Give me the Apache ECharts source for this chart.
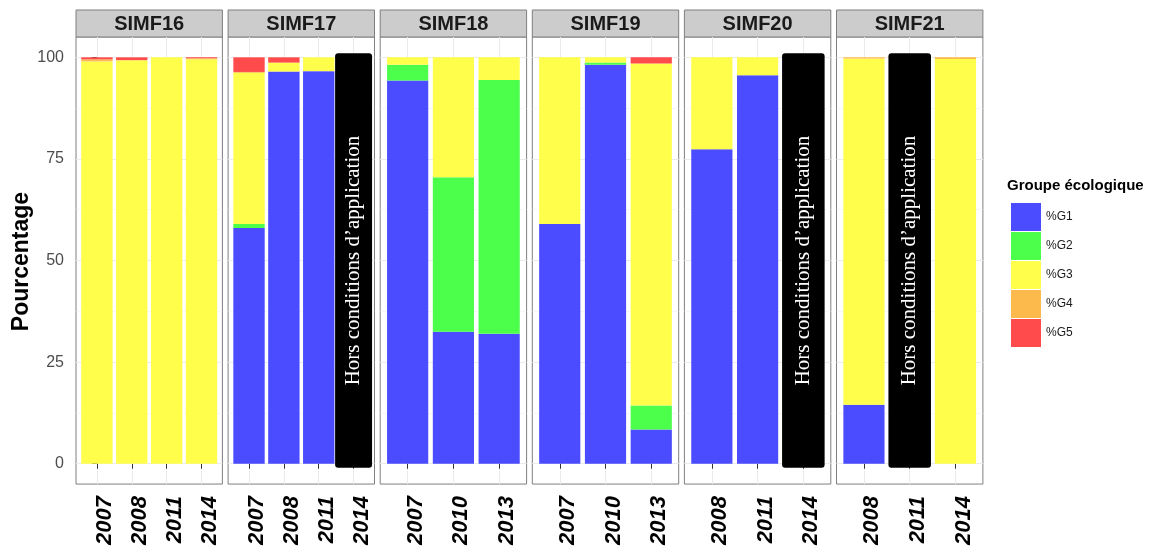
<!DOCTYPE html>
<html>
<head>
<meta charset="utf-8">
<script src="https://cdn.jsdelivr.net/npm/echarts@6/dist/echarts.min.js"></script>
<style>
  html, body { margin: 0; padding: 0; background: #fff; }
  #chart { width: 1157px; height: 548px; }
</style>
</head>
<body>
<div id="chart"></div>
<script>
// Sites (facets) and the survey years shown in each
const PANELS = ['SIMF16', 'SIMF17', 'SIMF18', 'SIMF19', 'SIMF20', 'SIMF21'];
const YEARS = [
  ['2007', '2008', '2011', '2014'],
  ['2007', '2008', '2011', '2014'],
  ['2007', '2010', '2013'],
  ['2007', '2010', '2013'],
  ['2008', '2011', '2014'],
  ['2008', '2011', '2014']
];
const GROUPS = ['%G1', '%G2', '%G3', '%G4', '%G5'];

// Percentage of each ecological group, per site and year (null = not computed)
const G1 = [[0, 0, 0, 0], [58, 96.5, 96.6, null], [94.3, 32.5, 32], [59, 98.2, 8.4], [77.4, 95.6, null], [14.5, null, 0]];
const G2 = [[0, 0, 0, 0], [1, 0, 0, null], [3.9, 38, 62.4], [0, 0.5, 5.9], [0, 0, null], [0, null, 0]];
const G3 = [[99, 99.3, 100, 99.5], [37.2, 2.2, 3.4, null], [1.8, 29.5, 5.6], [41, 1.3, 84.2], [22.6, 4.4, null], [85.2, null, 99.6]];
const G4 = [[0.5, 0, 0, 0.3], [0.2, 0, 0, null], [0, 0, 0], [0, 0, 0], [0, 0, null], [0.3, null, 0.4]];
const G5 = [[0.5, 0.7, 0, 0.2], [3.6, 1.3, 0, null], [0, 0, 0], [0, 0, 1.5], [0, 0, null], [0, null, 0]];
const GROUP_VALUES = [G1, G2, G3, G4, G5];

// Years for which the index could not be applied
const EXCLUDED = [[], ['2014'], [], [], ['2014'], ['2011']];
const NOTE = 'Hors conditions d\u2019application';

const Y_TICKS = [0, 25, 50, 75, 100];
const Y_MINOR = [12.5, 37.5, 62.5, 87.5];

// ---- layout & style ----
const COLORS = ['#4B4BFF', '#4BFF4B', '#FFFF4B', '#FDBA4C', '#FF4B4B'];
const SANS = '"Liberation Sans", Arial, sans-serif';
const SERIF = '"Liberation Serif", "Times New Roman", serif';
const PANEL_LEFT = 76, PANEL_W = 146.4, PANEL_GAP = 5.7;
const PLOT_TOP = 37, PLOT_H = 449;
const STRIP_TOP = 10, STRIP_H = 27;
const BOX_HALF = [0.5, 0.53, 0.5, 0.5, 0.465, 0.465];
const GRID_COLOR = '#ebebeb';

const panelLeft = i => PANEL_LEFT + i * (PANEL_W + PANEL_GAP);

const grid = [], xAxis = [], yAxis = [], series = [], graphic = [];

PANELS.forEach((name, i) => {
  const n = YEARS[i].length;
  const idx = YEARS[i].map((_, k) => k);
  const unit = PANEL_W / (n + 0.2);

  grid.push({
    left: panelLeft(i), top: PLOT_TOP, width: PANEL_W, height: PLOT_H,
    show: true, backgroundColor: '#fff', borderColor: '#7f7f7f', borderWidth: 1
  });

  xAxis.push({
    type: 'value', gridIndex: i, min: -0.6, max: n - 0.4,
    axisLine: { show: false },
    axisTick: { show: true, customValues: idx, length: 5, lineStyle: { color: '#333', width: 1 } },
    axisLabel: {
      show: true, customValues: idx,
      formatter: v => YEARS[i][Math.round(v)],
      rotate: 90, margin: 12, verticalAlign: 'top', lineHeight: 16,
      fontFamily: SANS, fontSize: 22, fontWeight: 'bold', fontStyle: 'italic', color: '#000'
    },
    splitLine: { show: true, lineStyle: { color: GRID_COLOR, width: 1 } }
  });

  // major scale (ticks, labels, major grid)
  yAxis.push({
    type: 'value', gridIndex: i, min: -5, max: 105,
    axisLine: { show: false },
    axisTick: { show: i === 0, customValues: Y_TICKS, length: 5, lineStyle: { color: '#333', width: 1 } },
    axisLabel: {
      show: i === 0, customValues: Y_TICKS, margin: 12, padding: [4, 0, 0, 0],
      fontFamily: SANS, fontSize: 16, color: '#4d4d4d'
    },
    splitLine: { show: true, lineStyle: { color: GRID_COLOR, width: 1 } }
  });
  // minor grid
  yAxis.push({
    type: 'value', gridIndex: i, min: -5, max: 105,
    axisLine: { show: false },
    axisTick: { show: false, customValues: Y_MINOR },
    axisLabel: { show: false, customValues: Y_MINOR },
    splitLine: { show: true, lineStyle: { color: '#f0f0f0', width: 0.6 } }
  });

  GROUPS.forEach((g, gi) => {
    series.push({
      type: 'bar', name: g, stack: 'site' + i,
      xAxisIndex: i, yAxisIndex: 2 * i,
      barWidth: unit * 0.9,
      itemStyle: { color: COLORS[gi] },
      emphasis: { disabled: true },
      // value first so the stack runs along the percentage dimension
      encode: { x: 1, y: 0 },
      data: GROUP_VALUES[gi][i].map((v, k) => [v, k])
    });
  });

  if (EXCLUDED[i].length) {
    series.push({
      type: 'custom', name: 'exclusion' + i,
      xAxisIndex: i, yAxisIndex: 2 * i, clip: false, z: 10,
      data: EXCLUDED[i].map(y => [YEARS[i].indexOf(y)]),
      renderItem: (params, api) => {
        const k = api.value(0);
        const hw = BOX_HALF[i];
        const a = api.coord([k - hw, 101]);
        const b = api.coord([k + hw, -1]);
        return {
          type: 'group',
          children: [
            { type: 'rect', shape: { x: a[0], y: a[1], width: b[0] - a[0], height: b[1] - a[1], r: 3 }, style: { fill: '#000' } },
            {
              type: 'text', x: (a[0] + b[0]) / 2, y: (a[1] + b[1]) / 2, rotation: Math.PI / 2,
              style: { text: NOTE, fill: '#fff', font: '21px ' + SERIF, align: 'center', verticalAlign: 'middle' }
            }
          ]
        };
      }
    });
  }

  // facet strip
  graphic.push({
    type: 'rect', shape: { x: panelLeft(i), y: STRIP_TOP, width: PANEL_W, height: STRIP_H },
    style: { fill: '#cccccc', stroke: '#7f7f7f', lineWidth: 1 }
  });
  graphic.push({
    type: 'text', x: panelLeft(i) + PANEL_W / 2, y: STRIP_TOP + STRIP_H / 2 + 1,
    style: { text: name, font: 'bold 20px ' + SANS, fill: '#1a1a1a', align: 'center', verticalAlign: 'middle' }
  });
});

// y axis title
graphic.push({
  type: 'text', x: 22, y: PLOT_TOP + PLOT_H / 2, rotation: Math.PI / 2,
  style: { text: 'Pourcentage', font: 'bold 23px ' + SANS, fill: '#000', align: 'center', verticalAlign: 'middle' }
});
// legend title
graphic.push({
  type: 'text', x: 1007, y: 186,
  style: { text: 'Groupe écologique', font: 'bold 15px ' + SANS, fill: '#000', align: 'left', verticalAlign: 'middle' }
});

const chart = echarts.init(document.getElementById('chart'), null, { renderer: 'canvas' });
chart.setOption({
  animation: false,
  backgroundColor: '#fff',
  grid, xAxis, yAxis, series, graphic,
  legend: {
    data: GROUPS, orient: 'vertical', left: 1006, top: 198,
    itemWidth: 30, itemHeight: 28, itemGap: 1, icon: 'rect',
    selectedMode: false,
    textStyle: { fontFamily: SANS, fontSize: 12, color: '#1a1a1a' }
  }
});
</script>
</body>
</html>
